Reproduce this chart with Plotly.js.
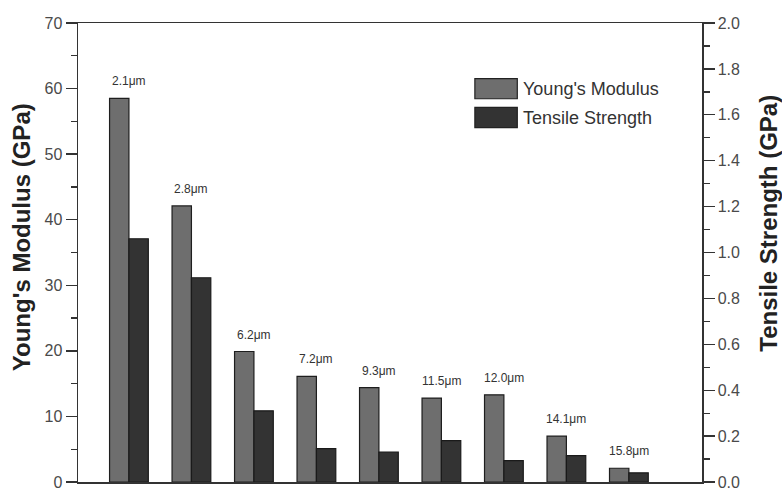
<!DOCTYPE html>
<html>
<head>
<meta charset="utf-8">
<script src="https://cdn.plot.ly/plotly-3.0.1.min.js"></script>
<style>html,body{margin:0;padding:0;background:#fff;}#chart{width:782px;height:490px;}</style>
</head>
<body>
<div id="chart"></div>
<script>
const categories = ["2.1μm","2.8μm","6.2μm","7.2μm","9.3μm","11.5μm","12.0μm","14.1μm","15.8μm"];
const youngsModulus = [58.5, 42.1, 19.9, 16.1, 14.4, 12.8, 13.3, 7.0, 2.1];
const tensileStrength = [1.06, 0.89, 0.31, 0.145, 0.13, 0.18, 0.093, 0.115, 0.04];
const seriesNames = ["Young's Modulus", "Tensile Strength"];
const axisTitles = ["Young's Modulus (GPa)", "Tensile Strength (GPa)"];
const leftTicks = [0,10,20,30,40,50,60,70];
const rightTicks = [0.0,0.2,0.4,0.6,0.8,1.0,1.2,1.4,1.6,1.8,2.0];

const BW = 0.31;
const traces = [
  {type:'bar', name:seriesNames[0], x:categories, y:youngsModulus, yaxis:'y', width:BW, offset:-BW,
   marker:{color:'#6e6e6e', line:{color:'#1e1e1e', width:1.2}}, showlegend:false},
  {type:'bar', name:seriesNames[1], x:categories, y:tensileStrength, yaxis:'y2', width:BW, offset:0,
   marker:{color:'#333333', line:{color:'#1a1a1a', width:1.2}}, showlegend:false}
];

const FAM = 'Liberation Sans, Arial, sans-serif';
const tickFont = {family:FAM, size:16, color:'#4a4a4a'};
const titleFont = {family:FAM, size:24, color:'#222', weight:'bold'};

const annotations = categories.map((c,i)=>({
  x:c, y:youngsModulus[i], xref:'x', yref:'y', text:c, showarrow:false,
  yanchor:'middle', xanchor:'center', yshift:17,
  font:{family:FAM, size:12, color:'#333'}
}));
// axis titles
annotations.push({xref:'paper', yref:'paper', x:-0.09, y:0.533, textangle:-90, showarrow:false,
  xanchor:'center', yanchor:'middle', text:axisTitles[0], font:titleFont});
annotations.push({xref:'paper', yref:'paper', x:1.106, y:0.563, textangle:-90, showarrow:false,
  xanchor:'center', yanchor:'middle', text:axisTitles[1], font:titleFont});
// custom legend
const legendY = [0.857, 0.794];
const legendColors = ['#6e6e6e', '#333333'];
const shapes = [];
seriesNames.forEach((n,i)=>{
  shapes.push({type:'rect', xref:'paper', yref:'paper', x0:0.636, x1:0.704,
    y0:legendY[i]-0.022, y1:legendY[i]+0.022, fillcolor:legendColors[i], line:{color:'#222', width:1.2}});
  annotations.push({xref:'paper', yref:'paper', x:0.71, y:legendY[i], xanchor:'left', yanchor:'middle',
    text:n, showarrow:false, font:{family:FAM, size:18, color:'#333'}});
});

const layout = {
  width:782, height:490,
  margin:{l:78, r:80, t:23, b:8},
  paper_bgcolor:'#fff', plot_bgcolor:'#fff',
  xaxis:{type:'category', range:[-0.815, 9.17], showticklabels:false, ticks:'',
    showline:true, linecolor:'#333', linewidth:1.5, mirror:true, showgrid:false, zeroline:false, fixedrange:true},
  yaxis:{range:[0,70], tickvals:leftTicks, ticks:'outside', ticklen:11, tickwidth:1.3, tickcolor:'#333',
    ticklabeloverflow:'allow',
    minor:{dtick:5, ticks:'outside', ticklen:6, tickwidth:1.3, tickcolor:'#333', showgrid:false},
    showline:true, linecolor:'#333', linewidth:1.5, showgrid:false, zeroline:false,
    tickfont:tickFont},
  yaxis2:{range:[0,2], overlaying:'y', side:'right', tickvals:rightTicks, tickformat:'.1f',
    ticks:'outside', ticklen:11, tickwidth:1.3, tickcolor:'#333', ticklabeloverflow:'allow',
    minor:{dtick:0.1, ticks:'outside', ticklen:6, tickwidth:1.3, tickcolor:'#333', showgrid:false},
    showline:true, linecolor:'#333', linewidth:1.5, showgrid:false, zeroline:false,
    tickfont:tickFont},
  annotations:annotations, shapes:shapes
};
Plotly.newPlot('chart', traces, layout, {staticPlot:true});
</script>
</body>
</html>
